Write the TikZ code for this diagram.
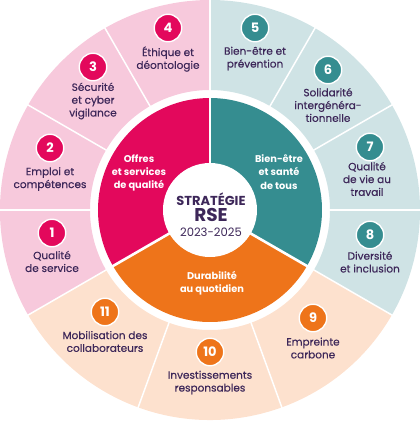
\documentclass[tikz,border=0pt]{standalone}
\usepackage{fontspec}
\setmainfont{Poppins}
\newfontfamily\medfont[FakeBold=0.35]{Poppins}
\definecolor{mag}{HTML}{E3085C}
\definecolor{magl}{HTML}{F7C9DC}
\definecolor{teal}{HTML}{358D90}
\definecolor{teall}{HTML}{CFE3E5}
\definecolor{ora}{HTML}{EE741A}
\definecolor{oral}{HTML}{FDE1CE}
\definecolor{purp}{HTML}{3D2759}
\tikzset{
  numc/.style={circle, fill=#1, draw=white, line width=1.4pt, minimum size=27.5pt, inner sep=0pt, text=white, font=\fontsize{13}{13}\selectfont\bfseries},
  lbl/.style={align=center, text=purp, inner sep=0pt, font=\fontsize{10.5}{12.8}\medfont},
  inlbl/.style={align=center, text=white, inner sep=0pt, font=\fontsize{9.8}{13.2}\selectfont\bfseries},
  sep/.style={white, line width=1.5pt},
  bigsep/.style={white, line width=2.6pt}
}
\newcommand{\ringseg}[3]{\fill[#3] (#1:120) arc[start angle=#1, end angle=#2, radius=120] -- (#2:210) arc[start angle=#2, end angle=#1, radius=210] -- cycle;}
\newcommand{\discseg}[3]{\fill[#3] (0,0) -- (#1:112) arc[start angle=#1, end angle=#2, radius=112] -- cycle;}
\begin{document}
\begin{tikzpicture}[x=1pt,y=1pt]
\useasboundingbox (-210,-211) rectangle (210,210);
% outer ring
\ringseg{90}{210}{magl}
\ringseg{-30}{90}{teall}
\ringseg{210}{330}{oral}
\foreach \a in {0,30,60,90,120,150,180,210,250,290,330}
  \draw[sep] (\a:118) -- (\a:211);
% inner disc
\discseg{90}{210}{mag}
\discseg{-30}{90}{teal}
\discseg{210}{330}{ora}
\foreach \a in {90,210,330}
  \draw[bigsep] (0,0) -- (\a:113);
% centre
\node[circle, fill=white, minimum size=94pt, inner sep=0pt] (centre) at (0,0) {};
\node[text=purp, font=\fontsize{13}{13}\selectfont\bfseries, inner sep=0pt] (strat) at (1,11) {STRATÉGIE};
\node[text=purp, font=\fontsize{18.5}{18.5}\selectfont\bfseries, inner sep=0pt] (rse) at (1,-4.5) {RSE};
\node[text=purp, font=\fontsize{11.6}{11.6}\selectfont, inner sep=0pt] (years) at (1,-22) {2023-2025};
% inner labels
\node[inlbl] (offres) at (-71,37) {Offres\\et services\\de qualité};
\node[inlbl] (bien) at (69,38) {Bien-être\\et santé\\de tous};
\node[inlbl] (dura) at (2,-73) {Durabilité\\au quotidien};
% numbers
\node[numc=mag] (n1) at (-158,-23) {1};
\node[numc=mag] (n2) at (-160,62) {2};
\node[numc=mag] (n3) at (-117,143) {3};
\node[numc=mag] (n4) at (-42,182) {4};
\node[numc=teal] (n5) at (45,182) {5};
\node[numc=teal] (n6) at (118,140) {6};
\node[numc=teal] (n7) at (160,63) {7};
\node[numc=teal] (n8) at (160,-25) {8};
\node[numc=ora] (n9) at (103,-108) {9};
\node[numc=ora] (n10) at (0,-142) {10};
\node[numc=ora] (n11) at (-105,-102) {11};
% labels
\node[lbl] (l1) at (-158,-51.5) {Qualité\\de service};
\node[lbl] (l2) at (-160,31) {Emploi et\\compétences};
\node[lbl] (l3) at (-117,109) {Sécurité\\et cyber\\vigilance};
\node[lbl] (l4) at (-42,151) {Éthique et\\déontologie};
\node[lbl] (l5) at (45,151.5) {Bien-être et\\prévention};
\node[lbl] (l6) at (118,105) {Solidarité\\intergénéra-\\tionnelle};
\node[lbl] (l7) at (157,31) {Qualité\\de vie au\\travail};
\node[lbl] (l8) at (160,-52) {Diversité\\et inclusion};
\node[lbl] (l9) at (103,-138) {Empreinte\\carbone};
\node[lbl] (l10) at (0,-172.5) {Investissements\\responsables};
\node[lbl] (l11) at (-105,-131.5) {Mobilisation des\\collaborateurs};
\end{tikzpicture}
\end{document}
